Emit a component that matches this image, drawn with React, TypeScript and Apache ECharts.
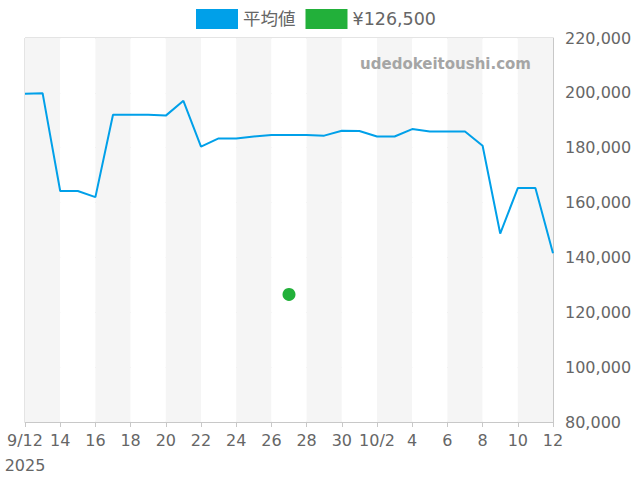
import React, { useEffect, useRef } from "react";
import * as echarts from "echarts";

const categories: string[] = [
  "2025-09-12", "2025-09-13", "2025-09-14", "2025-09-15", "2025-09-16", "2025-09-17",
  "2025-09-18", "2025-09-19", "2025-09-20", "2025-09-21", "2025-09-22", "2025-09-23",
  "2025-09-24", "2025-09-25", "2025-09-26", "2025-09-27", "2025-09-28", "2025-09-29",
  "2025-09-30", "2025-10-01", "2025-10-02", "2025-10-03", "2025-10-04", "2025-10-05",
  "2025-10-06", "2025-10-07", "2025-10-08", "2025-10-09", "2025-10-10", "2025-10-11",
  "2025-10-12",
];

const averageValues: number[] = [
  199700, 199900, 164200, 164200, 162000, 192000, 192000, 192000, 191700, 197100,
  180400, 183400, 183400, 184100, 184600, 184600, 184600, 184400, 186200, 186100,
  184100, 184100, 186800, 185900, 185900, 185900, 180700, 148700, 165300, 165300,
  141500,
];

const pointDate = "2025-09-27";
const pointValue = 126500;

const seriesNames = ["平均値", "¥126,500"];

const yMin = 80000;
const yMax = 220000;
const yInterval = 20000;

function labelFor(value: string, index: number): string {
  const [y, m, d] = value.split("-");
  const day = String(Number(d));
  if (index === 0) return `${Number(m)}/${day}\n${y}`;
  const prev = categories[index - 2];
  if (prev && prev.split("-")[1] !== m) return `${Number(m)}/${day}`;
  return day;
}

export default function App() {
  const ref = useRef<HTMLDivElement>(null);
  useEffect(() => {
    if (!ref.current) return;
    const chart = echarts.init(ref.current, undefined, { renderer: "svg" });
    const scatterData = categories.map((c) => (c === pointDate ? pointValue : null));
    chart.setOption({
      animation: false,
      textStyle: { fontFamily: "DejaVu Sans, Noto Sans CJK JP, sans-serif" },
      legend: {
        top: 4,
        left: 191,
        itemWidth: 42,
        itemHeight: 20,
        itemGap: 10,
        icon: "rect",
        textStyle: { fontSize: 17.5, color: "#666" },
        data: seriesNames,
      },
      grid: {
        left: 25,
        right: 87,
        top: 38,
        bottom: 58,
        show: true,
        borderColor: "#c8c8c8",
        borderWidth: 1,
        backgroundColor: "transparent",
      },
      graphic: [
        {
          type: "text",
          right: 109,
          top: 56,
          style: {
            text: "udedokeitoushi.com",
            fontSize: 15,
            fontWeight: "bold",
            fill: "#a5a5a5",
            fontFamily: "DejaVu Sans, sans-serif",
          },
          z: 10,
        },
      ],
      xAxis: {
        type: "category",
        data: categories,
        boundaryGap: false,
        axisLine: { lineStyle: { color: "#c8c8c8" } },
        axisTick: { show: true, interval: 1, length: 5, lineStyle: { color: "#c8c8c8" } },
        axisLabel: {
          interval: 1,
          fontSize: 16,
          lineHeight: 25,
          color: "#666",
          margin: 6,
          formatter: (v: string, i: number) => labelFor(v, i),
        },
        splitArea: {
          show: true,
          interval: 1,
          areaStyle: { color: ["#f5f5f5", "#ffffff"] },
        },
        splitLine: { show: false },
      },
      yAxis: {
        type: "value",
        position: "right",
        min: yMin,
        max: yMax,
        interval: yInterval,
        axisLine: { show: true, lineStyle: { color: "#c8c8c8" } },
        axisTick: { show: false },
        axisLabel: {
          fontSize: 16,
          color: "#666",
          margin: 12,
          formatter: (v: number) => v.toLocaleString("en-US"),
        },
        splitLine: { lineStyle: { color: "#e0e0e0" } },
      },
      series: [
        {
          name: seriesNames[0],
          type: "line",
          data: averageValues,
          showSymbol: false,
          symbol: "none",
          lineStyle: { color: "#00a0e9", width: 2 },
          itemStyle: { color: "#00a0e9" },
        },
        {
          name: seriesNames[1],
          type: "scatter",
          data: scatterData,
          symbolSize: 13,
          itemStyle: { color: "#22b03a", opacity: 1 },
        },
      ],
    });
    return () => chart.dispose();
  }, []);
  return <div ref={ref} style={{ width: 640, height: 480, position: "absolute", left: 0, top: 0 }} />;
}
